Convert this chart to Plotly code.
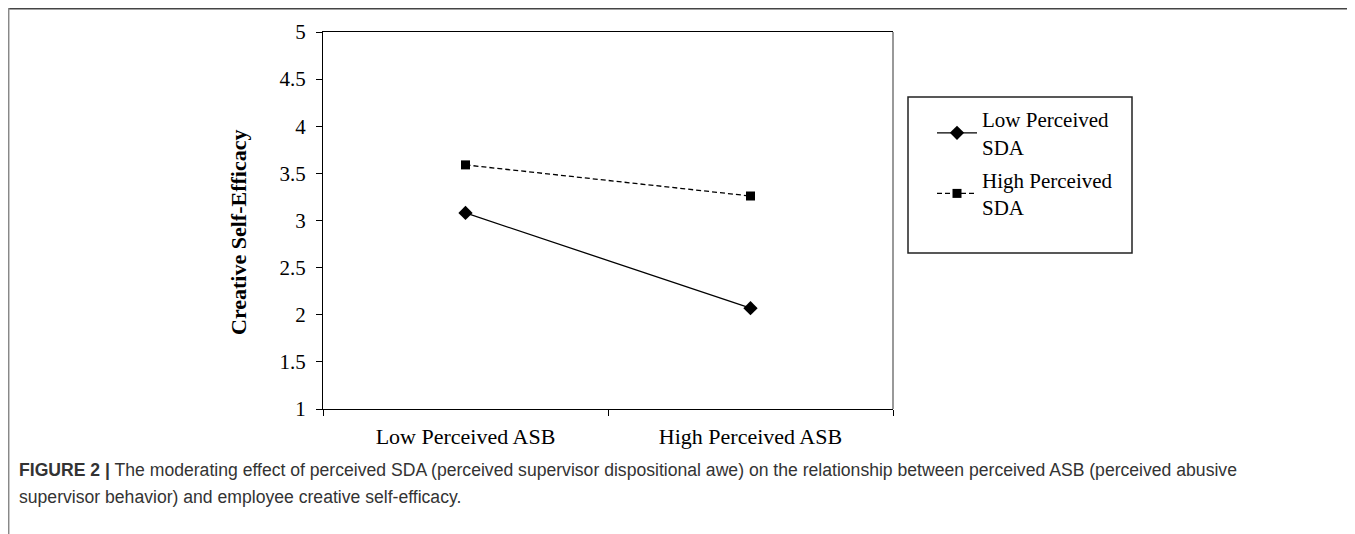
import plotly.graph_objects as go

categories = ["Low Perceived ASB", "High Perceived ASB"]
low_sda = [3.08, 2.07]
high_sda = [3.59, 3.26]
series_names = ["Low Perceived<br>SDA", "High Perceived<br>SDA"]
y_ticks = [1, 1.5, 2, 2.5, 3, 3.5, 4, 4.5, 5]
y_tick_labels = ["1", "1.5", "2", "2.5", "3", "3.5", "4", "4.5", "5"]

OFF = 8  # page body margin
W, H = 1355 - OFF, 534 - OFF
# plot area in page pixels
L, R, T, B = 323, 893, 32, 409


def px(x):
    return (x - L) / (R - L)


def py(y):
    return (B - y) / (B - T)


serif = "Liberation Serif, Times New Roman, serif"
sans = "Liberation Sans, Arial, sans-serif"

fig = go.Figure()
fig.add_trace(go.Scatter(
    x=categories, y=low_sda, name=series_names[0], mode="lines+markers",
    line=dict(color="black", width=1.3, dash="solid"),
    marker=dict(symbol="diamond", size=11, color="black"),
    legendgroup="a",
))
fig.add_trace(go.Scatter(
    x=categories, y=high_sda, name=series_names[1], mode="lines+markers",
    line=dict(color="black", width=1.3, dash="5px,3px"),
    marker=dict(symbol="square", size=9, color="black"),
    legendgroup="b",
))

fig.update_layout(
    width=W, height=H,
    margin=dict(l=L - OFF, r=W - (R - OFF), t=T - OFF, b=H - (B - OFF), pad=0),
    paper_bgcolor="white", plot_bgcolor="white",
    showlegend=True,
    legend=dict(
        x=px(932), y=py(99), xanchor="left", yanchor="top",
        font=dict(family=serif, size=21, color="black"),
        bgcolor="rgba(0,0,0,0)", borderwidth=0,
        tracegroupgap=3, itemwidth=40,
    ),
    xaxis=dict(
        type="category", range=[-0.5, 1.5],
        showline=True, linecolor="black", linewidth=1.3, mirror=True,
        ticks="outside", ticklen=6, tickcolor="black", tickson="boundaries",
        ticklabelstandoff=7,
        showgrid=False, zeroline=False,
        tickfont=dict(family=serif, size=22, color="black"),
    ),
    yaxis=dict(
        range=[1, 5], tickvals=y_ticks, ticktext=y_tick_labels,
        showline=True, linecolor="black", linewidth=1.3,
        ticks="outside", ticklen=6, tickcolor="black",
        ticklabelstandoff=6,
        showgrid=False, zeroline=False,
        tickfont=dict(family=serif, size=21, color="black"),
    ),
    font=dict(family=serif, color="black"),
)

shapes = [
    # right border of plot area (lighter)
    dict(type="line", xref="paper", yref="paper", x0=1, x1=1, y0=0, y1=1,
         line=dict(color="#777777", width=1.5)),
    # legend box
    dict(type="rect", xref="paper", yref="paper", x0=px(908), x1=px(1132), y0=py(97), y1=py(253),
         line=dict(color="#222222", width=1.5), fillcolor="rgba(0,0,0,0)"),
    # outer frame: top and left
    dict(type="line", xref="paper", yref="paper", x0=px(8), x1=px(1355), y0=py(8.7), y1=py(8.7),
         line=dict(color="#444444", width=1.5)),
    dict(type="line", xref="paper", yref="paper", x0=px(8.7), x1=px(8.7), y0=py(8), y1=py(534),
         line=dict(color="#888888", width=1.5)),
]
fig.update_layout(shapes=shapes)

annotations = [
    dict(text="<b>Creative Self-Efficacy</b>", textangle=-90, xref="paper", yref="paper",
         x=px(238), y=py(233), xanchor="center", yanchor="middle", showarrow=False,
         font=dict(family=serif, size=22, color="black")),
    dict(text="<b>FIGURE 2 |</b> The moderating effect of perceived SDA (perceived supervisor dispositional awe) on the relationship between perceived ASB (perceived abusive",
         xref="paper", yref="paper", x=px(17), y=py(470), xanchor="left", yanchor="middle",
         showarrow=False, align="left", font=dict(family=sans, size=17.6, color="#333333")),
    dict(text="supervisor behavior) and employee creative self-efficacy.",
         xref="paper", yref="paper", x=px(17), y=py(497), xanchor="left", yanchor="middle",
         showarrow=False, align="left", font=dict(family=sans, size=17.6, color="#333333")),
]
fig.update_layout(annotations=annotations)

fig.write_html("out.html")
